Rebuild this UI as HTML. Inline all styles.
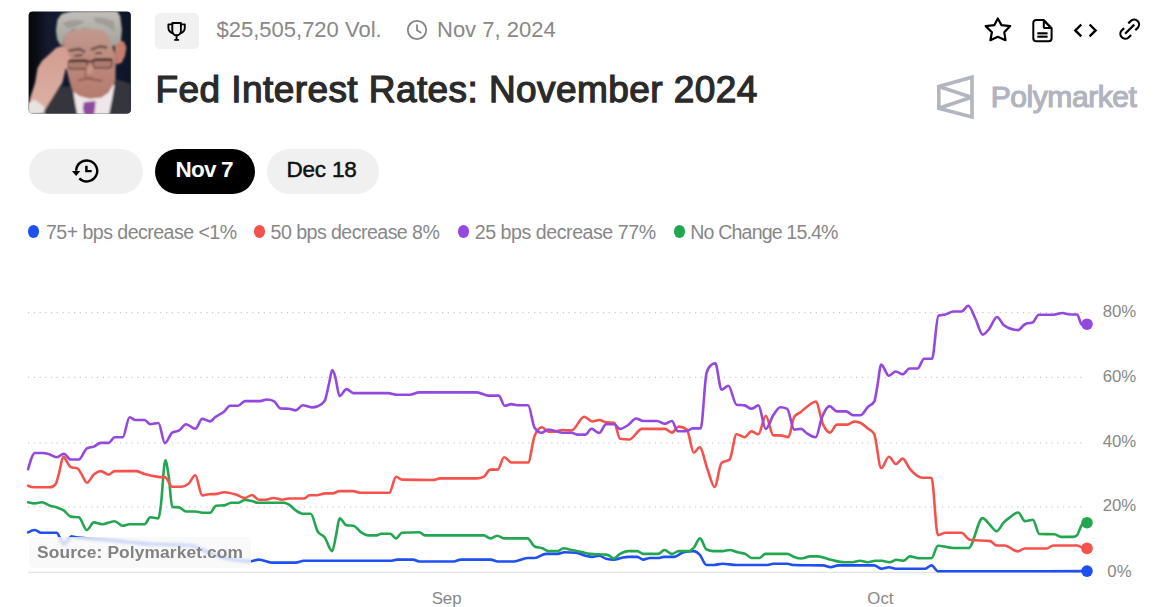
<!DOCTYPE html>
<html><head><meta charset="utf-8"><title>Fed Interest Rates: November 2024</title>
<style>
html,body{margin:0;padding:0;background:#fff;}
body{width:1175px;height:607px;overflow:hidden;position:relative;font-family:"Liberation Sans",Arial,sans-serif;}
.a{position:absolute;white-space:nowrap;line-height:1;}
</style></head><body>
<svg class="a" style="left:28px;top:11px" width="104" height="104" viewBox="0 0 607 607">
<defs><clipPath id="pc"><rect x="3.5" y="3.5" width="597" height="595" rx="24"/></clipPath>
<linearGradient id="bg" x1="0" y1="0" x2="1" y2="0"><stop offset="0" stop-color="#07080c"/><stop offset="0.08" stop-color="#0a0c14"/><stop offset="0.2" stop-color="#161a2e"/><stop offset="0.3" stop-color="#111a30"/><stop offset="0.7" stop-color="#101830"/><stop offset="1" stop-color="#0e1526"/></linearGradient>
<linearGradient id="hairg" x1="0" y1="0" x2="0" y2="1"><stop offset="0" stop-color="#c2bfb9"/><stop offset="1" stop-color="#a3a09a"/></linearGradient>
<linearGradient id="faceg" x1="0" y1="0" x2="0" y2="1"><stop offset="0" stop-color="#c29a8e"/><stop offset="0.45" stop-color="#bd8a7e"/><stop offset="1" stop-color="#b57a6e"/></linearGradient>
<linearGradient id="handg" x1="0" y1="0" x2="0" y2="1"><stop offset="0" stop-color="#d49c90"/><stop offset="1" stop-color="#dcb2a6"/></linearGradient>
<filter id="bl" x="-0.1" y="-0.1" width="1.2" height="1.2"><feGaussianBlur stdDeviation="5"/></filter>
</defs>
<g clip-path="url(#pc)">
<rect width="607" height="607" fill="url(#bg)"/>
<g filter="url(#bl)">
<path d="M95,607 L125,530 L165,468 L205,440 L262,442 L330,470 L430,470 L468,418 L505,398 L560,410 L607,430 L607,607 Z" fill="#34363e"/>
<path d="M262,450 L300,490 L345,505 L420,500 L468,468 L492,418 L505,432 L490,520 L472,607 L288,607 L272,520 Z" fill="#eee6e8"/>
<path d="M326,532 L394,526 L392,562 L386,607 L330,607 L320,570 Z" fill="#8e4c9c"/>
<path d="M504,196 L530,174 L560,178 L574,212 L566,262 L546,302 L514,312 Z" fill="#c47e70"/>
<path d="M206,175 L222,128 L272,106 L352,100 L432,110 L478,152 L494,212 L512,262 L510,398 L498,430 L468,478 L428,505 L360,512 L300,496 L264,470 L244,420 L230,360 L216,300 L206,240 Z" fill="url(#faceg)"/>
<path d="M163,112 L172,50 L196,18 L252,2 L520,0 L538,30 L548,110 L542,176 L518,192 L484,212 L474,152 L432,112 L342,102 L264,108 L222,132 L208,172 L204,202 L186,196 L170,166 Z" fill="url(#hairg)"/>
<path d="M200,70 Q260,40 330,60 Q300,90 230,100 Z M380,40 Q440,30 500,60 L505,120 Q470,80 400,70 Z" fill="#8f8c87" opacity="0.6"/>
<path d="M10,515 L30,455 L42,418 L56,332 L82,290 L122,255 L165,214 L200,204 L226,220 L242,266 L252,302 L242,332 L220,336 L200,420 L165,470 L118,545 L96,585 L60,602 L10,602 Z" fill="url(#handg)"/>
<path d="M0,535 L40,518 L96,560 L96,598 L0,607 Z" fill="#e8e2e0"/>
<path d="M236,232 L300,222 L334,240 M368,226 L420,206 L462,214" stroke="#5a4640" stroke-width="16" fill="none" opacity="0.85"/>
<path d="M270,262 L318,258 M392,248 L432,244" stroke="#4a3430" stroke-width="10" fill="none"/>
<rect x="236" y="288" width="110" height="50" rx="18" fill="#8a5a50" fill-opacity="0.3" stroke="#5a3a30" stroke-width="7"/>
<rect x="380" y="282" width="110" height="50" rx="18" fill="#8a5a50" fill-opacity="0.3" stroke="#5a3a30" stroke-width="7"/>
<path d="M234,292 L346,290 M380,285 L492,284" stroke="#33211a" stroke-width="13"/>
<path d="M346,296 L380,292" stroke="#3e2a22" stroke-width="11"/>
<path d="M335,320 L345,360 L370,368 L385,320 Z" fill="#cfa294" opacity="0.6"/>
<path d="M340,330 L332,380 L352,392 L380,388" stroke="#a06858" stroke-width="10" fill="none"/>
<path d="M292,404 L350,394 L432,408" stroke="#8a5048" stroke-width="10" fill="none"/>
</g>
</g>
</svg>
<div class="a" style="left:155px;top:13px;width:44px;height:36px;border-radius:5px;background:#f1f1f1"></div>
<svg class="a" style="left:160px;top:15px" width="35" height="32" viewBox="160 15 35 32" fill="none" stroke="#000" stroke-width="1.9" stroke-linecap="round" stroke-linejoin="round">
<path d="M172.3 23h8.6v8a4.3 4.3 0 0 1-8.6 0z"/><path d="M172.3 24.4h-3.9v3.2c0 2.9 1.6 5 4.4 5.6"/><path d="M180.9 24.4h3.9v3.2c0 2.9-1.6 5-4.4 5.6"/><path d="M176.6 35.4v4.2"/><path d="M175 39.9h3.3"/>
</svg>
<div class="a" style="left:216.5px;top:18.6px;font-size:22px;color:#888888;font-weight:400;letter-spacing:0px;">$25,505,720 Vol.</div>
<svg class="a" style="left:406px;top:19px" width="22" height="22" viewBox="0 0 22 22" fill="none" stroke="#858585" stroke-width="1.8" stroke-linecap="round">
<circle cx="11" cy="11" r="9.2"/><path d="M11 6.2V11.2l3.6 2.4"/>
</svg>
<div class="a" style="left:437.0px;top:18.7px;font-size:22px;color:#888888;font-weight:400;letter-spacing:0px;">Nov 7, 2024</div>
<div class="a" style="left:155.6px;top:70.6px;font-size:37px;color:#2a2a2a;font-weight:400;letter-spacing:0.42px;-webkit-text-stroke:1.25px #2a2a2a;">Fed Interest Rates: November 2024</div>
<svg class="a" style="left:980px;top:12px" width="165" height="36" viewBox="980 12 165 36" fill="none" stroke="#000" stroke-width="2.2" stroke-linejoin="round" stroke-linecap="round">
<path d="M997.8 18.5L1001.5 25.1L1010.2 26.1L1004.3 32.3L1005.5 40.2L997.8 36.8L990.4 40.2L991.9 32.3L985.7 26.1L994.4 25.1Z"/>
<path d="M1036.3 20.1h7.6l7.7 8.1v10a3 3 0 0 1-3 3h-12.3a3 3 0 0 1-3-3v-15.1a3 3 0 0 1 3-3z" stroke-width="2"/>
<path d="M1043.8 20.6v6.4a1.1 1.1 0 0 0 1.1 1.1h6.4z" stroke-width="2"/>
<rect x="1037.4" y="33.1" width="10.1" height="3.8" fill="#9a9a9a" stroke="none"/>
<path d="M1037.4 33.1h10.1M1037.4 36.8h10.1" stroke-width="1.7" stroke-linecap="butt"/>
<path d="M1081.3 24.5l-6 5.95 6 5.95M1089.6 24.5l6 5.95-6 5.95" stroke-width="2.4" stroke-linecap="butt" stroke-linejoin="miter"/>
<path d="M1128.3 23.4l2.54-2.51a4.9 4.9 0 0 1 6.92 6.92l-2.46 2.46" stroke-linecap="butt"/>
<path d="M1131.1 35l-2.54 2.51a4.9 4.9 0 0 1-6.92-6.92l2.46-2.46" stroke-linecap="butt"/>
<path d="M1134.3 24.6l-9.2 9.2" stroke-linecap="butt"/>
</svg>
<svg class="a" style="left:930px;top:70px" width="50" height="55" viewBox="930 70 50 55" fill="none" stroke="#b3b5c1" stroke-width="3.6" stroke-linejoin="miter">
<path d="M938.8 86.5L972 77.2V117L938.8 108.3Z"/>
<path d="M938.8 86.5L971.5 97.2L938.8 108.3" stroke-linejoin="bevel"/>
</svg>
<div class="a" style="left:990.8px;top:82.1px;font-size:30px;color:#b1b3bf;font-weight:400;letter-spacing:-0.45px;-webkit-text-stroke:1.15px #b1b3bf;">Polymarket</div>
<div class="a" style="left:28.5px;top:148.5px;width:114.5px;height:45.5px;border-radius:23px;background:#f0f0f0"></div>
<svg class="a" style="left:66px;top:152px" width="40" height="38" viewBox="66 152 40 38" fill="none" stroke="#000" stroke-width="2.45" stroke-linecap="butt" stroke-linejoin="round">
<path d="M79.3 178.4A10.5 10.5 0 1 0 76.2 170.8"/>
<path d="M72 171.1h8.3l-4.15 4.9z" fill="#000" stroke="none"/>
<path d="M86.4 165.8v5.3h5.3" stroke-linejoin="miter"/>
</svg>
<div class="a" style="left:155px;top:148.5px;width:99.5px;height:45.5px;border-radius:23px;background:#000"></div>
<div class="a" style="left:266.5px;top:148.5px;width:112.5px;height:45.5px;border-radius:23px;background:#f0f0f0"></div>
<div class="a" style="left:175.5px;top:159.4px;font-size:22.5px;color:#ffffff;font-weight:700;letter-spacing:-0.8px;">Nov 7</div>
<div class="a" style="left:286.5px;top:159.4px;font-size:22.5px;color:#111111;font-weight:400;letter-spacing:-0.2px;-webkit-text-stroke:0.5px #111;">Dec 18</div>
<div class="a" style="left:28.4px;top:225.3px;width:11px;height:12.3px;border-radius:50%;background:#1f4ff0"></div>
<div class="a" style="left:46.0px;top:223.3px;font-size:19.6px;color:#878787;font-weight:400;letter-spacing:-0.55px;">75+ bps decrease &lt;1%</div>
<div class="a" style="left:254.1px;top:225.3px;width:11px;height:12.3px;border-radius:50%;background:#f5524e"></div>
<div class="a" style="left:270.6px;top:223.3px;font-size:19.6px;color:#878787;font-weight:400;letter-spacing:-0.55px;">50 bps decrease 8%</div>
<div class="a" style="left:458.0px;top:225.3px;width:11px;height:12.3px;border-radius:50%;background:#9348de"></div>
<div class="a" style="left:474.7px;top:223.3px;font-size:19.6px;color:#878787;font-weight:400;letter-spacing:-0.45px;">25 bps decrease 77%</div>
<div class="a" style="left:674.0px;top:225.3px;width:11px;height:12.3px;border-radius:50%;background:#24a552"></div>
<div class="a" style="left:690.3px;top:223.3px;font-size:19.6px;color:#878787;font-weight:400;letter-spacing:-0.85px;">No Change 15.4%</div>
<svg class="a" style="left:0;top:0" width="1175" height="607" viewBox="0 0 1175 607">
<line x1="28" y1="312.7" x2="1086" y2="312.7" stroke="#c8c8c8" stroke-width="1.2" stroke-dasharray="1.2 4.55"/>
<line x1="28" y1="377.4" x2="1086" y2="377.4" stroke="#c8c8c8" stroke-width="1.2" stroke-dasharray="1.2 4.55"/>
<line x1="28" y1="442.9" x2="1086" y2="442.9" stroke="#c8c8c8" stroke-width="1.2" stroke-dasharray="1.2 4.55"/>
<line x1="28" y1="506.9" x2="1086" y2="506.9" stroke="#c8c8c8" stroke-width="1.2" stroke-dasharray="1.2 4.55"/>
<line x1="28" y1="572.3" x2="1090" y2="572.3" stroke="#e3e3e3" stroke-width="1.3"/>
<path d="M28.1,532.3C30.4,531.1 32.7,530.0 35.0,530.0C36.9,530.0 38.9,532.7 40.8,532.7C46.2,532.7 51.5,532.7 56.9,532.7C57.9,532.7 58.8,535.9 59.8,537.5C61.2,539.8 62.6,544.3 64.0,544.3C65.3,544.3 66.7,541.2 68.0,539.8C69.2,538.6 70.3,536.4 71.5,536.4C72.7,536.4 73.8,536.8 75.0,537.0C78.0,537.5 81.0,537.7 84.0,538.0C92.7,538.9 101.3,539.5 110.0,540.3C115.7,540.8 121.3,541.5 127.0,542.0C134.7,542.7 142.3,543.6 150.0,544.0C155.7,544.3 161.3,544.3 167.0,544.5C175.0,544.8 183.0,544.8 191.0,545.5C195.7,545.9 200.3,549.2 205.0,551.0C211.7,553.5 218.3,556.3 225.0,558.0C231.7,559.7 238.3,560.2 245.0,561.0C246.5,561.2 248.1,561.5 249.6,561.5C252.7,561.5 255.7,559.6 258.8,559.6C263.0,559.6 267.3,562.6 271.5,562.6C279.6,562.6 287.6,562.6 295.7,562.6C298.4,562.6 301.1,560.8 303.8,560.8C332.6,560.8 361.5,560.8 390.3,560.8C392.6,560.8 394.9,559.6 397.2,559.6C402.5,559.6 407.7,559.6 413.0,559.6C415.1,559.6 417.1,561.5 419.2,561.5C430.7,561.5 442.3,561.5 453.8,561.5C456.1,561.5 458.4,559.6 460.7,559.6C470.7,559.6 480.7,559.6 490.7,559.6C493.0,559.6 495.4,561.5 497.7,561.5C503.1,561.5 508.4,561.5 513.8,561.5C518.4,561.5 523.0,558.0 527.6,558.0C529.9,558.0 532.3,558.0 534.6,558.0C538.4,558.0 542.3,553.9 546.1,553.9C549.9,553.9 553.8,553.9 557.6,553.9C559.9,553.9 562.3,552.3 564.6,552.3C568.4,552.3 572.3,552.4 576.1,552.7C579.2,552.9 582.2,555.0 585.3,555.7C587.6,556.2 589.9,556.9 592.2,556.9C594.5,556.9 596.9,555.7 599.2,555.7C601.5,555.7 603.8,558.2 606.1,558.7C608.7,559.3 611.2,559.6 613.8,559.6C616.2,559.6 618.7,558.5 621.1,558.0C623.4,557.6 625.8,556.9 628.1,556.9C631.2,556.9 634.2,556.9 637.3,556.9C639.2,556.9 641.2,559.6 643.1,559.6C645.4,559.6 647.7,558.0 650.0,558.0C652.7,558.0 655.4,558.0 658.1,558.0C660.0,558.0 661.9,556.9 663.8,556.9C667.3,556.9 670.7,556.9 674.2,556.9C677.3,556.9 680.3,553.0 683.4,552.3C686.9,551.5 690.3,551.1 693.8,551.1C695.7,551.1 697.7,552.6 699.6,554.6C701.9,556.9 704.2,565.0 706.5,565.0C708.8,565.0 711.1,565.0 713.4,565.0C716.5,565.0 719.5,563.8 722.6,563.8C727.2,563.8 731.9,565.0 736.5,565.0C746.5,565.0 756.5,565.0 766.5,565.0C768.8,565.0 771.1,563.8 773.4,563.8C778.0,563.8 782.6,563.8 787.2,563.8C789.5,563.8 791.9,564.9 794.2,565.0C803.8,565.3 813.4,565.1 823.0,565.4C825.6,565.5 828.1,567.2 830.7,567.2C833.2,567.2 835.8,565.4 838.3,565.4C850.2,565.4 862.2,565.4 874.1,565.4C876.6,565.4 879.2,568.7 881.7,568.7C884.1,568.7 886.5,567.2 888.9,567.2C891.2,567.2 893.5,568.7 895.8,568.7C905.6,568.7 915.4,568.7 925.2,568.7C927.3,568.7 929.4,565.4 931.5,565.4C933.6,565.4 935.8,571.3 937.9,571.3C987.6,571.3 1037.3,571.2 1087.0,571.1" fill="none" stroke="#1f4ff0" stroke-width="2.6" stroke-linejoin="round" stroke-linecap="round"/>
<path d="M28.1,502.3C30.4,502.8 32.7,503.4 35.0,503.4C37.3,503.4 39.6,502.3 41.9,502.3C44.6,502.3 47.3,504.8 50.0,505.7C52.3,506.5 54.6,506.6 56.9,507.4C59.2,508.2 61.5,508.9 63.8,510.4C66.1,511.9 68.4,516.2 70.7,516.6C73.4,517.1 76.1,516.8 78.8,517.3C81.5,517.8 84.2,530.0 86.9,530.0C89.2,530.0 91.5,522.4 93.8,522.4C96.5,522.4 99.2,524.2 101.9,524.2C106.1,524.2 110.4,521.2 114.6,521.2C117.3,521.2 120.0,525.8 122.7,525.8C125.0,525.8 127.3,524.2 129.6,524.2C134.6,524.2 139.6,524.2 144.6,524.2C146.5,524.2 148.4,517.3 150.3,517.3C153.0,517.3 155.7,518.4 158.4,518.4C159.2,518.4 159.9,512.0 160.7,506.9C162.2,496.6 163.8,460.3 165.3,460.3C166.5,460.3 167.6,469.0 168.8,476.9C169.9,484.6 171.1,506.7 172.2,506.9C174.5,507.2 176.9,507.1 179.2,507.4C181.5,507.7 183.8,511.5 186.1,511.5C189.2,511.5 192.2,511.5 195.3,511.5C197.6,511.5 199.9,512.7 202.2,512.7C204.9,512.7 207.6,512.7 210.3,512.7C212.2,512.7 214.2,505.8 216.1,505.7C218.8,505.5 221.5,505.6 224.2,505.4C226.5,505.2 228.8,502.7 231.1,502.7C233.4,502.7 235.8,502.7 238.1,502.7C240.4,502.7 242.7,499.9 245.0,499.9C247.3,499.9 249.6,500.6 251.9,501.1C253.8,501.5 255.8,502.7 257.7,502.7C266.5,502.7 275.4,502.7 284.2,502.7C285.7,502.7 287.3,503.6 288.8,504.5C291.1,505.8 293.4,508.8 295.7,510.3C298.0,511.9 300.4,513.7 302.7,513.7C305.4,513.7 308.0,513.7 310.7,513.7C313.0,513.7 315.4,527.6 317.7,531.5C320.0,535.4 322.3,534.3 324.6,537.3C327.1,540.6 329.7,551.1 332.2,551.1C333.5,551.1 334.8,540.8 336.1,535.0C337.3,529.8 338.4,518.4 339.6,518.4C341.9,518.4 344.2,525.0 346.5,525.3C348.8,525.6 351.1,525.4 353.4,525.7C356.1,526.0 358.8,531.1 361.5,532.7C363.8,534.1 366.1,535.4 368.4,535.4C371.1,535.4 373.8,535.4 376.5,535.4C378.0,535.4 379.6,533.8 381.1,533.8C384.2,533.8 387.2,533.8 390.3,533.8C392.2,533.8 394.2,538.4 396.1,538.4C398.0,538.4 400.0,532.8 401.9,532.7C407.7,532.4 413.4,532.2 419.2,532.2C421.1,532.2 423.1,535.4 425.0,535.4C444.6,535.4 464.2,535.4 483.8,535.4C486.0,535.4 488.1,538.4 490.3,538.4C492.6,538.4 494.9,535.7 497.2,535.7C499.7,535.7 502.1,538.4 504.6,538.4C512.3,538.4 519.9,538.4 527.6,538.4C529.9,538.4 532.3,545.5 534.6,546.5C537.3,547.7 539.9,547.3 542.6,548.3C544.5,549.0 546.5,551.1 548.4,551.1C551.5,551.1 554.5,551.1 557.6,551.1C559.5,551.1 561.5,548.3 563.4,548.3C566.1,548.3 568.8,549.5 571.5,550.0C574.6,550.6 577.6,551.1 580.7,551.8C583.8,552.4 586.8,553.6 589.9,553.9C595.3,554.4 600.7,554.1 606.1,554.6C606.9,554.7 607.7,555.0 608.5,555.3C610.3,556.0 612.0,558.5 613.8,558.5C615.9,558.5 617.9,555.1 620.0,553.9C622.7,552.4 625.4,551.1 628.1,551.1C631.2,551.1 634.2,551.1 637.3,551.1C639.2,551.1 641.2,553.9 643.1,553.9C648.1,553.9 653.1,553.9 658.1,553.9C660.2,553.9 662.4,550.0 664.5,550.0C667.0,550.0 669.4,553.9 671.9,553.9C674.2,553.9 676.5,551.1 678.8,551.1C682.3,551.1 685.7,551.1 689.2,551.1C690.7,551.1 692.3,549.3 693.8,547.7C695.9,545.5 697.9,538.4 700.0,538.4C702.2,538.4 704.3,548.5 706.5,549.5C708.8,550.6 711.1,551.1 713.4,551.1C716.5,551.1 719.5,551.1 722.6,551.1C724.9,551.1 727.3,550.0 729.6,550.0C732.3,550.0 734.9,551.6 737.6,552.3C740.3,553.0 743.0,552.9 745.7,554.1C747.6,555.0 749.6,558.0 751.5,558.0C754.2,558.0 756.9,558.0 759.6,558.0C761.5,558.0 763.4,553.9 765.3,553.9C772.6,553.9 779.9,553.9 787.2,553.9C789.5,553.9 791.9,556.1 794.2,556.9C796.5,557.7 798.8,558.5 801.1,558.5C804.1,558.5 807.2,556.4 810.2,556.4C812.8,556.4 815.3,556.4 817.9,556.4C822.2,556.4 826.4,558.8 830.7,559.8C835.4,560.8 840.0,562.3 844.7,562.3C847.3,562.3 849.8,562.3 852.4,562.3C854.9,562.3 857.5,560.8 860.0,560.8C862.6,560.8 865.1,562.3 867.7,562.3C870.3,562.3 872.8,560.8 875.4,560.8C877.5,560.8 879.6,560.8 881.7,560.8C884.3,560.8 886.8,562.3 889.4,562.3C891.8,562.3 894.2,559.8 896.6,559.8C898.9,559.8 901.1,560.8 903.4,560.8C905.5,560.8 907.7,556.4 909.8,556.4C912.8,556.4 915.8,558.2 918.8,558.2C923.0,558.2 927.3,558.2 931.5,558.2C933.6,558.2 935.8,545.7 937.9,545.7C943.0,545.7 948.2,548.0 953.3,548.0C958.4,548.0 963.5,548.0 968.6,548.0C973.3,548.0 977.9,518.1 982.6,518.1C985.1,518.1 987.5,522.7 990.0,525.0C992.2,527.1 994.4,531.2 996.6,531.2C999.0,531.2 1001.4,524.8 1003.8,522.4C1005.8,520.4 1007.8,518.9 1009.8,517.4C1012.6,515.3 1015.5,512.5 1018.3,512.5C1020.5,512.5 1022.7,521.1 1024.9,521.1C1027.5,521.1 1030.2,519.8 1032.8,519.8C1035.0,519.8 1037.2,533.9 1039.4,534.0C1044.5,534.2 1049.5,534.1 1054.6,534.3C1056.8,534.4 1058.9,536.9 1061.1,536.9C1065.1,536.9 1069.0,536.9 1073.0,536.9C1074.3,536.9 1075.7,536.4 1077.0,535.3C1078.7,533.9 1080.5,525.6 1082.2,524.4C1083.8,523.3 1085.4,523.0 1087.0,522.7" fill="none" stroke="#24a552" stroke-width="2.6" stroke-linejoin="round" stroke-linecap="round"/>
<path d="M28.1,485.7C30.0,486.5 31.9,487.3 33.8,487.3C39.2,487.3 44.6,487.3 50.0,487.3C51.9,487.3 53.9,486.1 55.8,483.8C56.9,482.4 58.1,476.3 59.2,472.3C60.6,467.3 62.0,456.6 63.4,456.6C64.3,456.6 65.2,459.0 66.1,460.3C67.6,462.5 69.2,466.3 70.7,467.0C73.0,468.1 75.4,467.5 77.7,468.6C78.8,469.1 80.0,471.7 81.1,473.4C83.0,476.3 85.0,482.7 86.9,482.7C89.2,482.7 91.5,476.5 93.8,474.6C96.1,472.7 98.4,471.1 100.7,471.1C103.4,471.1 106.1,474.6 108.8,474.6C110.7,474.6 112.7,471.1 114.6,471.1C121.9,471.1 129.2,471.1 136.5,471.1C139.2,471.1 141.9,473.3 144.6,474.1C149.2,475.5 153.8,476.4 158.4,476.9C160.7,477.2 163.0,477.1 165.3,477.4C167.6,477.7 169.9,486.8 172.2,486.8C175.3,486.8 178.4,486.8 181.5,486.8C183.8,486.8 186.1,485.7 188.4,483.8C190.7,481.9 193.0,475.3 195.3,475.3C197.6,475.3 199.9,495.4 202.2,495.4C204.5,495.4 206.9,494.3 209.2,494.2C211.1,494.1 213.1,494.2 215.0,494.1C218.1,494.0 221.1,492.3 224.2,492.3C228.1,492.3 231.9,493.5 235.8,494.6C238.9,495.5 241.9,498.0 245.0,498.0C247.3,498.0 249.6,495.0 251.9,495.0C254.2,495.0 256.5,499.7 258.8,499.7C261.1,499.7 263.4,499.7 265.7,499.7C268.4,499.7 271.1,498.0 273.8,498.0C276.5,498.0 279.2,499.7 281.9,499.7C284.2,499.7 286.5,498.5 288.8,498.5C293.8,498.5 298.8,498.5 303.8,498.5C305.7,498.5 307.7,495.3 309.6,495.3C311.9,495.3 314.2,495.3 316.5,495.3C319.6,495.3 322.6,493.4 325.7,493.4C328.0,493.4 330.3,493.4 332.6,493.4C334.9,493.4 337.3,491.1 339.6,491.1C344.2,491.1 348.8,491.1 353.4,491.1C355.7,491.1 358.0,492.8 360.3,492.8C369.9,492.8 379.6,492.8 389.2,492.8C391.5,492.8 393.8,476.8 396.1,476.8C398.0,476.8 400.0,479.6 401.9,479.6C412.3,479.9 422.7,480.0 433.1,480.0C435.4,480.0 437.7,478.4 440.0,478.4C452.3,478.4 464.6,478.4 476.9,478.4C479.2,478.4 481.5,477.8 483.8,476.6C486.0,475.5 488.1,469.6 490.3,469.6C492.8,469.6 495.2,469.6 497.7,469.6C499.8,469.6 502.0,457.2 504.1,457.2C506.6,457.2 509.0,462.5 511.5,462.5C517.0,462.5 522.6,462.5 528.1,462.5C530.3,462.5 532.4,440.7 534.6,435.7C537.1,430.0 539.5,427.2 542.0,427.2C544.1,427.2 546.3,431.6 548.4,431.6C550.3,431.6 552.3,431.6 554.2,431.6C556.9,431.6 559.6,430.0 562.3,430.0C565.4,430.0 568.4,430.4 571.5,430.4C575.7,430.4 580.0,416.8 584.2,416.8C586.9,416.8 589.5,421.4 592.2,421.4C594.5,421.4 596.9,420.0 599.2,420.0C601.5,420.0 603.8,422.2 606.1,422.4C608.8,422.6 611.5,422.5 614.2,422.7C616.1,422.8 618.1,438.5 620.0,438.8C623.1,439.3 626.1,439.5 629.2,439.5C633.4,439.5 637.7,428.9 641.9,428.9C649.6,428.9 657.3,428.9 665.0,428.9C667.3,428.9 669.6,432.6 671.9,432.6C674.2,432.6 676.5,426.6 678.8,426.6C681.5,426.6 684.2,427.6 686.9,429.6C689.2,431.3 691.5,452.7 693.8,452.7C695.7,452.7 697.7,447.3 699.6,447.3C702.3,447.3 705.0,462.9 707.7,470.0C710.0,476.0 712.3,487.0 714.6,487.0C716.9,487.0 719.2,464.9 721.5,463.0C724.2,460.7 726.9,461.9 729.6,459.6C731.9,457.7 734.2,434.2 736.5,434.2C739.2,434.2 741.9,437.2 744.6,437.2C746.9,437.2 749.2,431.4 751.5,431.4C753.8,431.4 756.1,434.2 758.4,434.2C760.9,434.2 763.3,415.7 765.8,415.7C768.3,415.7 770.9,435.4 773.4,435.4C775.7,435.4 778.0,435.4 780.3,435.4C783.0,435.4 785.7,437.2 788.4,437.2C790.3,437.2 792.3,419.8 794.2,416.9C796.1,414.0 798.1,414.1 800.0,412.6C803.1,410.2 806.1,407.0 809.2,405.0C811.4,403.6 813.5,401.5 815.7,401.5C818.2,401.5 820.6,419.4 823.1,424.6C825.4,429.4 827.7,432.6 830.0,432.6C832.3,432.6 834.6,424.6 836.9,424.6C840.4,424.6 843.8,424.6 847.3,424.6C849.6,424.6 851.9,421.6 854.2,421.6C856.1,421.6 858.1,422.0 860.0,422.7C862.7,423.7 865.4,426.5 868.1,428.7C870.1,430.3 872.1,430.4 874.1,433.8C876.5,437.8 878.8,468.3 881.2,468.3C883.8,468.3 886.3,456.8 888.9,456.8C891.2,456.8 893.5,464.0 895.8,464.0C898.1,464.0 900.4,458.6 902.7,458.6C905.1,458.6 907.4,466.0 909.8,468.8C914.1,473.8 918.3,477.8 922.6,477.8C925.6,477.8 928.5,477.8 931.5,477.8C933.6,477.8 935.8,535.2 937.9,535.2C940.5,535.2 943.0,532.7 945.6,532.7C950.9,532.7 956.1,532.7 961.4,532.7C964.2,532.7 967.1,539.4 969.9,539.8C976.7,540.7 983.5,540.2 990.3,541.1C992.4,541.4 994.5,545.5 996.6,545.5C999.2,545.5 1001.9,545.5 1004.5,545.5C1008.9,545.5 1013.3,551.4 1017.7,551.4C1020.1,551.4 1022.5,548.5 1024.9,548.5C1032.2,548.5 1039.4,548.5 1046.7,548.5C1048.9,548.5 1051.0,545.5 1053.2,545.5C1061.1,545.5 1069.1,545.5 1077.0,545.5C1078.7,545.5 1080.5,546.9 1082.2,547.4C1083.8,547.9 1085.4,548.1 1087.0,548.4" fill="none" stroke="#f5524e" stroke-width="2.6" stroke-linejoin="round" stroke-linecap="round"/>
<path d="M28.1,469.2C30.4,461.1 32.7,453.0 35.0,453.0C37.7,453.0 40.3,453.0 43.0,453.0C44.6,453.0 46.1,453.3 47.7,453.7C50.8,454.4 53.8,457.2 56.9,457.2C59.2,457.2 61.5,453.7 63.8,453.7C66.1,453.7 68.4,459.5 70.7,459.5C73.4,459.5 76.1,459.5 78.8,459.5C81.5,459.5 84.2,449.8 86.9,448.4C89.2,447.2 91.5,447.5 93.8,446.6C96.1,445.7 98.4,442.9 100.7,442.9C103.4,442.9 106.1,442.9 108.8,442.9C110.7,442.9 112.7,437.3 114.6,437.3C117.3,437.3 120.0,437.3 122.7,437.3C125.0,437.3 127.3,417.3 129.6,417.3C131.5,417.3 133.4,420.0 135.3,420.0C138.4,420.0 141.5,420.0 144.6,420.0C146.5,420.0 148.4,424.2 150.3,424.2C153.0,424.2 155.7,423.0 158.4,423.0C160.6,423.0 162.7,443.1 164.9,443.1C167.3,443.1 169.8,434.3 172.2,432.7C174.5,431.2 176.9,431.8 179.2,430.4C181.5,429.0 183.8,424.2 186.1,424.2C189.2,424.2 192.2,428.8 195.3,428.8C197.6,428.8 199.9,418.9 202.2,418.9C204.9,418.9 207.6,421.4 210.3,421.4C211.9,421.4 213.4,418.5 215.0,417.3C218.1,414.9 221.1,414.1 224.2,411.5C226.1,409.8 228.1,405.7 230.0,405.7C232.7,405.7 235.4,405.7 238.1,405.7C240.4,405.7 242.7,401.1 245.0,401.1C250.0,401.1 255.0,401.1 260.0,401.1C262.3,401.1 264.6,399.5 266.9,399.5C269.2,399.5 271.5,400.0 273.8,401.1C276.1,402.2 278.4,408.4 280.7,408.5C283.4,408.6 286.1,408.6 288.8,408.7C291.1,408.8 293.4,410.4 295.7,410.4C298.0,410.4 300.4,405.3 302.7,405.3C305.8,405.3 308.8,407.4 311.9,407.4C313.8,407.4 315.8,407.0 317.7,406.2C320.0,405.2 322.3,404.5 324.6,401.1C326.1,398.8 327.7,389.0 329.2,382.7C330.2,378.6 331.2,370.0 332.2,370.0C333.1,370.0 334.1,373.0 335.0,375.8C336.5,380.3 338.1,396.1 339.6,396.1C341.9,396.1 344.2,389.1 346.5,389.1C348.8,389.1 351.1,393.1 353.4,393.1C364.9,393.1 376.5,393.1 388.0,393.1C391.1,393.1 394.1,394.7 397.2,394.7C401.5,394.7 405.7,394.7 410.0,394.7C413.1,394.7 416.1,392.4 419.2,392.4C438.4,392.4 457.7,392.4 476.9,392.4C480.7,392.4 484.6,395.6 488.4,395.6C491.9,395.6 495.3,395.6 498.8,395.6C500.7,395.6 502.7,405.7 504.6,405.7C506.9,405.7 509.2,404.1 511.5,404.1C513.8,404.1 516.1,405.3 518.4,405.3C521.6,405.3 524.9,405.3 528.1,405.3C530.3,405.3 532.4,424.6 534.6,427.7C536.9,431.0 539.2,432.7 541.5,432.7C543.8,432.7 546.1,429.5 548.4,429.5C553.0,429.5 557.7,432.7 562.3,432.7C565.4,432.7 568.4,432.7 571.5,432.7C573.4,432.7 575.3,434.6 577.2,434.6C579.9,434.6 582.6,434.6 585.3,434.6C587.4,434.6 589.4,428.8 591.5,428.8C594.1,428.8 596.6,433.0 599.2,433.0C601.5,433.0 603.8,424.2 606.1,424.2C608.8,424.2 611.5,424.2 614.2,424.3C616.1,424.3 618.1,428.9 620.0,428.9C622.7,428.9 625.4,426.7 628.1,425.0C630.8,423.3 633.4,418.5 636.1,418.5C638.4,418.5 640.8,421.0 643.1,421.0C647.7,421.0 652.3,421.0 656.9,421.0C659.6,421.0 662.3,423.8 665.0,423.8C667.3,423.8 669.6,421.0 671.9,421.0C673.8,421.0 675.8,431.2 677.7,431.2C680.4,431.2 683.0,431.2 685.7,431.2C688.0,431.2 690.4,428.4 692.7,428.4C695.4,428.4 698.0,428.4 700.7,428.4C702.6,428.4 704.6,379.9 706.5,373.1C708.0,367.7 709.6,366.2 711.1,365.0C712.5,363.9 713.9,363.4 715.3,363.4C717.4,363.4 719.4,389.7 721.5,389.7C723.8,389.7 726.1,385.8 728.4,385.8C731.1,385.8 733.8,404.2 736.5,404.7C739.2,405.2 741.9,404.9 744.6,405.4C746.9,405.8 749.2,408.8 751.5,408.8C753.8,408.8 756.1,405.4 758.4,405.4C760.9,405.4 763.3,428.9 765.8,428.9C768.3,428.9 770.9,418.8 773.4,415.1C775.7,411.7 778.0,407.2 780.3,407.2C782.6,407.2 784.9,407.7 787.2,408.8C789.5,409.9 791.9,429.6 794.2,429.6C796.5,429.6 798.8,428.9 801.1,428.9C803.0,428.9 805.0,432.1 806.9,433.3C809.8,435.2 812.8,437.3 815.7,437.3C817.8,437.3 819.8,422.6 821.9,417.6C824.4,411.4 827.0,406.1 829.5,406.1C832.0,406.1 834.4,411.4 836.9,411.4C840.0,411.4 843.0,411.4 846.1,411.4C848.4,411.4 850.8,415.3 853.1,415.3C855.5,415.3 858.0,415.3 860.4,415.3C863.0,415.3 865.5,409.3 868.1,406.8C870.2,404.8 872.2,405.0 874.3,401.5C875.3,399.8 876.3,391.8 877.3,386.5C878.6,379.7 879.9,364.6 881.2,364.6C883.7,364.6 886.3,375.7 888.8,375.7C891.1,375.7 893.4,371.5 895.7,371.5C898.0,371.5 900.4,374.3 902.7,374.3C905.0,374.3 907.3,368.5 909.6,368.5C912.3,368.5 914.9,368.5 917.6,368.5C919.8,368.5 921.9,358.8 924.1,358.8C926.7,358.8 929.4,358.8 932.0,358.8C934.1,358.8 936.3,316.4 938.4,315.7C940.7,314.9 943.0,315.1 945.3,314.5C948.0,313.8 950.7,311.5 953.4,311.5C956.1,311.5 958.8,311.5 961.5,311.5C963.8,311.5 966.1,305.8 968.4,305.8C970.7,305.8 973.0,313.9 975.3,318.5C977.8,323.4 980.2,334.6 982.7,334.6C984.9,334.6 987.0,331.3 989.2,328.8C991.8,325.7 994.4,317.0 997.0,317.0C999.3,317.0 1001.7,323.8 1004.0,325.4C1008.7,328.5 1013.4,330.1 1018.1,330.1C1020.3,330.1 1022.4,325.7 1024.6,324.5C1025.6,324.0 1026.5,323.6 1027.5,323.3C1029.2,322.8 1030.9,323.1 1032.6,322.6C1034.6,322.0 1036.7,314.7 1038.7,314.7C1043.7,314.7 1048.7,314.7 1053.7,314.7C1056.7,314.7 1059.6,313.0 1062.6,313.0C1064.9,313.0 1067.3,314.5 1069.6,314.5C1072.1,314.5 1074.6,314.5 1077.1,314.5C1078.7,314.5 1080.2,324.5 1081.8,324.5C1083.5,324.5 1085.3,324.4 1087.0,324.2" fill="none" stroke="#9348de" stroke-width="2.6" stroke-linejoin="round" stroke-linecap="round"/>
<circle cx="1087" cy="324.2" r="5.8" fill="#9348de"/>
<circle cx="1087" cy="522.7" r="5.8" fill="#24a552"/>
<circle cx="1087" cy="548.4" r="5.8" fill="#f5524e"/>
<circle cx="1087" cy="571.1" r="5.8" fill="#1f4ff0"/>
<text x="1119.5" y="317.2" text-anchor="middle" font-family="Liberation Sans, Arial, sans-serif" font-size="16.8" fill="#888888">80%</text>
<text x="1119.5" y="381.9" text-anchor="middle" font-family="Liberation Sans, Arial, sans-serif" font-size="16.8" fill="#888888">60%</text>
<text x="1119.5" y="447.3" text-anchor="middle" font-family="Liberation Sans, Arial, sans-serif" font-size="16.8" fill="#888888">40%</text>
<text x="1119.5" y="511.1" text-anchor="middle" font-family="Liberation Sans, Arial, sans-serif" font-size="16.8" fill="#888888">20%</text>
<text x="1119.5" y="577" text-anchor="middle" font-family="Liberation Sans, Arial, sans-serif" font-size="16.8" fill="#888888">0%</text>
<text x="446.6" y="604.1" text-anchor="middle" font-family="Liberation Sans, Arial, sans-serif" font-size="16.8" fill="#888888">Sep</text>
<text x="880.4" y="604.1" text-anchor="middle" font-family="Liberation Sans, Arial, sans-serif" font-size="16.8" fill="#888888">Oct</text>
</svg>
<div class="a" style="left:28.6px;top:537px;width:222px;height:30.6px;border-radius:4.5px;background:rgba(247,247,247,0.74);backdrop-filter:blur(1.6px);-webkit-backdrop-filter:blur(1.6px)"></div>
<div class="a" style="left:37.0px;top:544.3px;font-size:17.4px;color:#828282;font-weight:700;letter-spacing:0.1px;">Source: Polymarket.com</div>
</body></html>
